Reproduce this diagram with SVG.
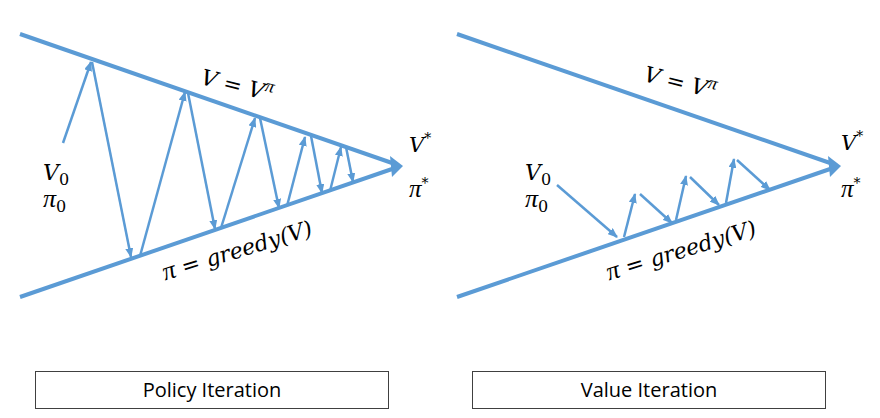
<svg xmlns="http://www.w3.org/2000/svg" width="880" height="418" viewBox="0 0 880 418">
<style>
.main{stroke:#5B9BD5;stroke-width:4;fill:none;stroke-linecap:butt}
.arr{stroke:#5B9BD5;stroke-width:2.5;fill:none;marker-end:url(#ah)}
.head{fill:#5B9BD5}
.m{font-family:"DejaVu Serif","Liberation Serif",serif;font-style:italic;fill:#000}
.p{font-family:"Liberation Serif","DejaVu Serif",serif;font-style:italic}
.u{font-style:normal}
.box{fill:#fff;stroke:#404040;stroke-width:1}
.lbl{font-family:"Open Sans","Liberation Sans",sans-serif;font-size:20px;fill:#000;text-anchor:middle}
</style>
<defs>
<marker id="ah" markerUnits="userSpaceOnUse" markerWidth="10" markerHeight="8" refX="9" refY="4" orient="auto">
<path d="M0,0 L10,4 L0,8 Z" fill="#5B9BD5"/>
</marker>
</defs>
<rect width="880" height="418" fill="#fff"/>
<g id="policy-iteration">
<g id="pi-lines">
<line class="main" x1="20" y1="34" x2="395" y2="164"/>
<line class="main" x1="20" y1="297" x2="395" y2="168"/>
<polygon class="head" points="403,166 390,156 392,177"/>
</g>
<g id="pi-connectors">
<line class="arr" x1="63" y1="143" x2="91" y2="62"/>
<line class="arr" x1="92" y1="62" x2="131" y2="257"/>
<line class="arr" x1="140" y1="256" x2="185" y2="92"/>
<line class="arr" x1="188" y1="93" x2="215" y2="229"/>
<line class="arr" x1="221" y1="228" x2="255" y2="118"/>
<line class="arr" x1="260" y1="118" x2="279" y2="208"/>
<line class="arr" x1="287" y1="206" x2="305" y2="137"/>
<line class="arr" x1="311" y1="136" x2="322" y2="193"/>
<line class="arr" x1="330" y1="191" x2="341" y2="147"/>
<line class="arr" x1="346" y1="147" x2="353" y2="182"/>
</g>
<text class="m" x="237" y="93" font-size="22" text-anchor="middle" transform="rotate(14 237 86)">V = V<tspan class="p" font-size="18" dy="-9">π</tspan></text>
<text class="m" x="237" y="258" font-size="22" text-anchor="middle" transform="rotate(-17 237 250)"><tspan class="p" font-size="26">π</tspan> = greedy(V)</text>
<text class="m" x="43" y="180" font-size="22">V<tspan class="u" font-size="16" dy="5">0</tspan></text>
<text class="m" x="43" y="207" font-size="22"><tspan class="p" font-size="26">π</tspan><tspan class="u" font-size="16" dy="5">0</tspan></text>
<text class="m" x="409" y="152" font-size="21">V<tspan class="u" font-size="14" dy="-9">*</tspan></text>
<text class="m" x="409" y="197" font-size="21"><tspan class="p" font-size="25">π</tspan><tspan class="u" font-size="14" dy="-9">*</tspan></text>
</g>
<g id="value-iteration">
<g id="vi-lines">
<line class="main" x1="457" y1="34" x2="833" y2="164"/>
<line class="main" x1="457" y1="297" x2="833" y2="168"/>
<polygon class="head" points="841,166 828,156 830,177"/>
</g>
<g id="vi-connectors">
<line class="arr" x1="557" y1="185" x2="617" y2="237"/>
<line class="arr" x1="624" y1="237" x2="635" y2="194"/>
<line class="arr" x1="640" y1="194" x2="672" y2="223"/>
<line class="arr" x1="676" y1="220" x2="686" y2="176"/>
<line class="arr" x1="690" y1="177" x2="719" y2="205"/>
<line class="arr" x1="726" y1="203" x2="734" y2="159"/>
<line class="arr" x1="737" y1="160" x2="770" y2="190"/>
</g>
<text class="m" x="680" y="90" font-size="22" text-anchor="middle" transform="rotate(14 680 83)">V = V<tspan class="p" font-size="18" dy="-9">π</tspan></text>
<text class="m" x="681" y="258" font-size="22" text-anchor="middle" transform="rotate(-17 681 250)"><tspan class="p" font-size="26">π</tspan> = greedy(V)</text>
<text class="m" x="525" y="180" font-size="22">V<tspan class="u" font-size="16" dy="5">0</tspan></text>
<text class="m" x="525" y="207" font-size="22"><tspan class="p" font-size="26">π</tspan><tspan class="u" font-size="16" dy="5">0</tspan></text>
<text class="m" x="841" y="150" font-size="21">V<tspan class="u" font-size="14" dy="-9">*</tspan></text>
<text class="m" x="841" y="197" font-size="21"><tspan class="p" font-size="25">π</tspan><tspan class="u" font-size="14" dy="-9">*</tspan></text>
</g>
<g id="label-policy">
<rect class="box" x="35.5" y="371.5" width="353" height="37"/>
<text class="lbl" x="212" y="397">Policy Iteration</text>
</g>
<g id="label-value">
<rect class="box" x="472.5" y="371.5" width="353" height="37"/>
<text class="lbl" x="649" y="397">Value Iteration</text>
</g>
</svg>
